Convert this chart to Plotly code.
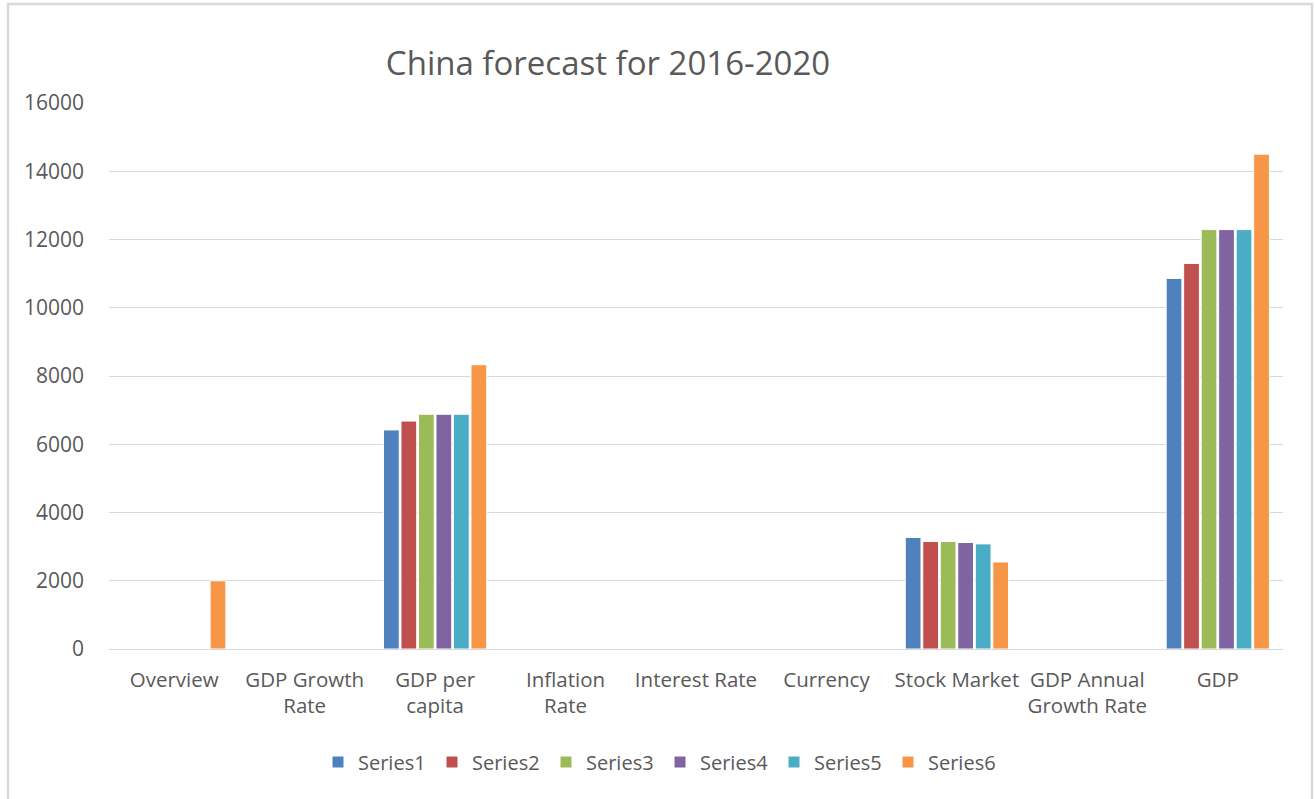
import plotly.graph_objects as go

categories = ["Overview", "GDP Growth<br>Rate", "GDP per<br>capita", "Inflation<br>Rate",
              "Interest Rate", "Currency", "Stock Market", "GDP Annual<br>Growth Rate", "GDP"]

series_names = ["Series1", "Series2", "Series3", "Series4", "Series5", "Series6"]
series1 = [None, None, 6420, None, None, None, 3270, None, 10860]
series2 = [None, None, 6680, None, None, None, 3150, None, 11300]
series3 = [None, None, 6880, None, None, None, 3150, None, 12290]
series4 = [None, None, 6880, None, None, None, 3120, None, 12290]
series5 = [None, None, 6880, None, None, None, 3080, None, 12290]
series6 = [2000, None, 8330, None, None, None, 2550, None, 14500]
colors = ["#4F81BD", "#C0504D", "#9BBB59", "#8064A2", "#4BACC6", "#F79646"]

all_series = [series1, series2, series3, series4, series5, series6]

W, H = 1315, 799
L, R, T, B = 109, 32, 103, 150
pw = W - L - R
ph = H - T - B

fig = go.Figure()
for name, vals, c in zip(series_names, all_series, colors):
    fig.add_trace(go.Bar(x=categories, y=vals, name=name,
                         marker=dict(color=c, line=dict(color="white", width=1))))

def px_x(p):
    return (p - L) / pw

def px_y(p):
    return (H - B - p) / ph

fig.update_layout(
    width=W, height=H,
    margin=dict(l=L, r=R, t=T, b=B),
    paper_bgcolor="white", plot_bgcolor="white",
    barmode="group", bargap=0.195, bargroupgap=0.1,
    font=dict(family="Open Sans", color="#595959"),
    title=dict(text="China forecast for 2016-2020", x=608 / W, xref="container",
               xanchor="center", y=1 - 63 / H, yref="container", yanchor="middle",
               font=dict(size=33, color="#595959", family="Open Sans")),
    xaxis=dict(showgrid=False, showline=False, ticks="", tickfont=dict(size=20.5, color="#595959"),
               ticklabelstandoff=16),
    yaxis=dict(range=[0, 16000], dtick=2000, tickformat="d", showgrid=True, gridcolor="#d9d9d9",
               gridwidth=1, zeroline=True, zerolinecolor="#d9d9d9", zerolinewidth=1, showline=False,
               ticks="", tickfont=dict(size=21, color="#595959"), ticklabelstandoff=24),
    legend=dict(orientation="h", x=px_x(318), xanchor="left", y=px_y(762), yanchor="middle",
                font=dict(size=20, color="#595959"), entrywidth=69, itemwidth=30),
    shapes=[dict(type="rect", xref="paper", yref="paper",
                 x0=px_x(8), x1=px_x(1312), y0=px_y(H + 20), y1=px_y(4),
                 line=dict(color="#d9d9d9", width=2.5), fillcolor="rgba(0,0,0,0)", layer="below")],
)

fig.write_html("out.html")
